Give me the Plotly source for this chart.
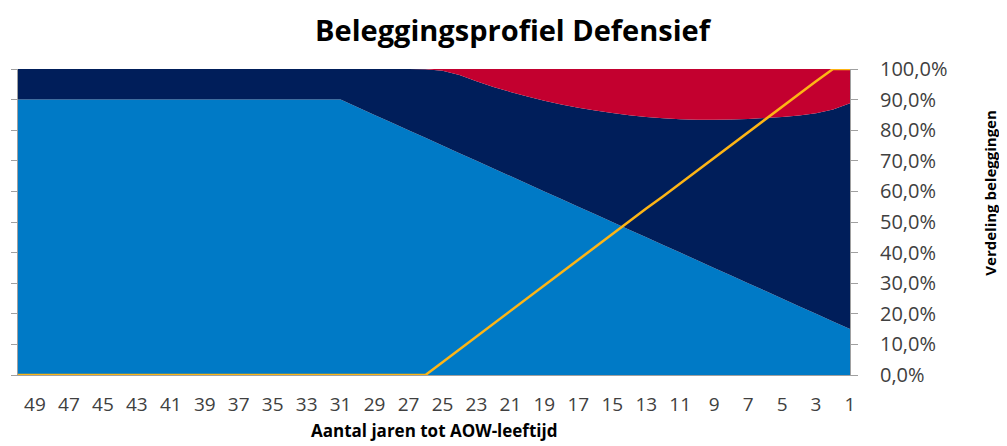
import plotly.graph_objects as go

years = list(range(50, 0, -1))

# light blue (bottom) share in %
blue = [90.0 if y >= 31 else 90.0 - 2.5 * (31 - y) for y in years]

# red (top) share in %
red_map = {27: 0.0, 26: 0.1, 25: 0.6, 24: 2.0, 23: 4.0, 22: 5.9, 21: 7.5, 20: 9.0,
           19: 10.4, 18: 11.6, 17: 12.7, 16: 13.6, 15: 14.4, 14: 15.1, 13: 15.7,
           12: 16.1, 11: 16.4, 10: 16.6, 9: 16.6, 8: 16.5, 7: 16.3, 6: 16.0,
           5: 15.7, 4: 15.2, 3: 14.5, 2: 13.2, 1: 11.2}
red = [red_map.get(y, 0.0) for y in years]

navy = [100.0 - b - r for b, r in zip(blue, red)]

# yellow line in %
line_map = {26: 0.0, 25: 4.2, 24: 8.4, 23: 12.6, 22: 16.8, 21: 21.0, 20: 25.0,
            19: 29.2, 18: 33.4, 17: 37.6, 16: 41.8, 15: 46.0, 14: 50.2, 13: 54.4,
            12: 58.4, 11: 62.6, 10: 66.8, 9: 71.0, 8: 75.0, 7: 79.2, 6: 83.4,
            5: 87.6, 4: 91.8, 3: 96.0, 2: 100.0, 1: 100.0}
line = [line_map.get(y, 0.0) for y in years]

tick_years = list(range(49, 0, -2))
y_ticks = list(range(0, 101, 10))
y_ticktext = [f"{v},0%" for v in y_ticks]

FONT = "Open Sans"

fig = go.Figure()
fig.add_trace(go.Scatter(x=years, y=blue, stackgroup="a", mode="none",
                         fillcolor="#007AC6", hoverinfo="skip"))
fig.add_trace(go.Scatter(x=years, y=navy, stackgroup="a", mode="none",
                         fillcolor="#001E5A", hoverinfo="skip"))
fig.add_trace(go.Scatter(x=years, y=red, stackgroup="a", mode="none",
                         fillcolor="#C3002F", hoverinfo="skip"))
fig.add_trace(go.Scatter(x=years, y=line, mode="lines",
                         line=dict(color="#FDB515", width=2.5),
                         hoverinfo="skip"))
fig.add_trace(go.Scatter(x=[years[0]], y=[0], yaxis="y2", mode="markers",
                         marker=dict(opacity=0), hoverinfo="skip"))

fig.update_layout(
    width=999, height=438,
    margin=dict(l=10, r=157, t=61, b=71, autoexpand=False),
    paper_bgcolor="white", plot_bgcolor="white",
    showlegend=False,
    font=dict(family=FONT, color="#404040"),
    title=dict(text="<b>Beleggingsprofiel Defensief</b>", x=0.505, xanchor="center",
               y=0.948, yanchor="middle",
               font=dict(family=FONT, size=29, color="black")),
    xaxis=dict(range=[50, 1], tickmode="array", tickvals=tick_years,
               ticktext=[str(t) for t in tick_years], showgrid=False, zeroline=False,
               showline=True, linecolor="#A0A0A0", linewidth=1, ticks="",
               ticklabelstandoff=12, automargin=False,
               tickfont=dict(size=19, color="#404040")),
    yaxis=dict(range=[0, 100], tickmode="array", tickvals=y_ticks, showticklabels=False,
               showgrid=False, zeroline=False, showline=True, linecolor="#A0A0A0",
               ticks="outside", ticklen=6, tickcolor="#A0A0A0", automargin=False),
    yaxis2=dict(range=[0, 100], overlaying="y", side="right", tickmode="array",
                tickvals=y_ticks, ticktext=y_ticktext, showgrid=False, zeroline=False,
                showline=True, linecolor="#A0A0A0", ticks="outside", ticklen=7,
                tickcolor="#A0A0A0", ticklabelstandoff=18, automargin=False,
                tickfont=dict(size=20, color="#404040")),
    annotations=[
        dict(text="<b>Verdeling beleggingen</b>", textangle=-90,
             xref="paper", yref="paper", x=1.168, y=0.595,
             xanchor="center", yanchor="middle", showarrow=False,
             font=dict(family=FONT, size=15, color="black")),
        dict(text="<b>Aantal jaren tot AOW-leeftijd</b>",
             xref="paper", yref="paper", x=0.5, y=-0.226,
             xanchor="center", yanchor="bottom", showarrow=False,
             font=dict(family=FONT, size=17, color="black")),
    ],
)

fig.write_html("out.html")
